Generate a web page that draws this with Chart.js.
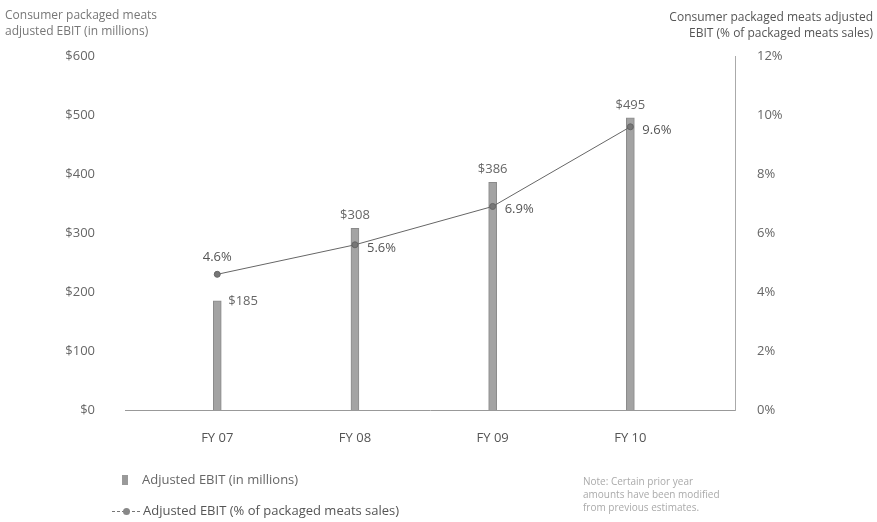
<!DOCTYPE html>
<html>
<head>
<meta charset="utf-8">
<script src="https://cdn.jsdelivr.net/npm/chart.js@4/dist/chart.umd.min.js"></script>
<style>
    body { margin: 0; background: #fff; font-family: "Open Sans", sans-serif; }
    #wrap { position: relative; width: 877px; height: 522px; }
    canvas { position: absolute; left: 0; top: 0; }
    .txt { position: absolute; color: #777; font-size: 12px; line-height: 16px; }
</style>
</head>
<body>
<div id="wrap">
    <canvas id="chart" width="877" height="522"></canvas>
    <div class="txt" style="left:5px; top:7px;">Consumer packaged meats<br>adjusted EBIT (in millions)</div>
    <div class="txt" style="right:4px; top:9px; text-align:right; color:#555;">Consumer packaged meats adjusted<br>EBIT (% of packaged meats sales)</div>
    <div class="txt" style="left:122px; top:471px; font-size:13px; color:#666;">
        <span style="display:inline-block; width:6px; height:10px; background:#999; margin-right:14px; vertical-align:-1px;"></span>Adjusted EBIT (in millions)
    </div>
    <div class="txt" style="left:112px; top:502px; font-size:13px; color:#555;">
        <span style="display:inline-block; position:relative; width:28px; height:10px; margin-right:3px; vertical-align:-1px;">
            <span style="position:absolute; left:0; top:5px; width:28px; border-top:1px dashed #777;"></span>
            <span style="position:absolute; left:11px; top:2px; width:7px; height:7px; border-radius:50%; background:#888;"></span>
        </span>Adjusted EBIT (% of packaged meats sales)
    </div>
    <div class="txt" style="left:583px; top:475px; font-size:10px; line-height:13px; color:#aaa;">Note: Certain prior year<br>amounts have been modified<br>from previous estimates.</div>
</div>
<script>
// ── Données ──
const ANNEES = ['FY 07', 'FY 08', 'FY 09', 'FY 10'];
const EBIT_MILLIONS = [185, 308, 386, 495];
const EBIT_POURCENT = [4.6, 5.6, 6.9, 9.6];
const TICKS_DOLLARS = [0, 100, 200, 300, 400, 500, 600];
const TICKS_POURCENT = [0, 2, 4, 6, 8, 10, 12];

// Étiquettes de valeurs
const etiquettes = {
    id: 'etiquettes',
    afterDatasetsDraw(chart) {
        const ctx = chart.ctx;
        const barres = chart.getDatasetMeta(0).data;
        const points = chart.getDatasetMeta(1).data;
        ctx.save();
        ctx.font = '13px "Open Sans", sans-serif';
        ctx.fillStyle = '#666';
        ctx.textBaseline = 'middle';
        barres.forEach((b, i) => {
            if (i === 0) {
                ctx.textAlign = 'left';
                ctx.fillText('$' + EBIT_MILLIONS[i], b.x + 11, b.y);
            } else {
                ctx.textAlign = 'center';
                ctx.fillText('$' + EBIT_MILLIONS[i], b.x, b.y - 13);
            }
        });
        ctx.fillStyle = '#555';
        points.forEach((p, i) => {
            const txt = EBIT_POURCENT[i].toFixed(1) + '%';
            if (i === 0) {
                ctx.textAlign = 'center';
                ctx.fillText(txt, p.x, p.y - 17);
            } else {
                ctx.textAlign = 'left';
                ctx.fillText(txt, p.x + 12, p.y + 3);
            }
        });
        ctx.restore();
    }
};

new Chart(document.getElementById('chart'), {
    type: 'bar',
    data: {
        datasets: [
            {
                type: 'bar',
                data: EBIT_MILLIONS.map((v, i) => ({ x: i, y: v })),
                backgroundColor: '#a3a3a3',
                borderColor: '#8a8a8a',
                borderWidth: 1,
                barThickness: 8,
                yAxisID: 'y',
                order: 2
            },
            {
                type: 'line',
                data: EBIT_POURCENT.map((v, i) => ({ x: i, y: v })),
                borderColor: '#666',
                borderWidth: 1,
                pointRadius: 3,
                pointBackgroundColor: '#777',
                pointBorderColor: '#666',
                yAxisID: 'y2',
                order: 1
            }
        ]
    },
    options: {
        responsive: false,
        animation: false,
        layout: { padding: { top: 56, left: 0, right: 0, bottom: 0 } },
        plugins: { legend: { display: false }, tooltip: { enabled: false } },
        scales: {
            x: {
                type: 'linear',
                offset: false,
                min: -0.67,
                max: 3.76,
                grid: { display: false },
                border: { color: '#999', dash: [1, 2] },
                afterBuildTicks: s => { s.ticks = ANNEES.map((_, i) => ({ value: i })); },
                afterFit: s => { s.height = 112; },
                ticks: {
                    padding: 12,
                    color: '#555',
                    font: { size: 13, family: '"Open Sans", sans-serif' },
                    callback: v => ANNEES[v]
                }
            },
            y: {
                position: 'left',
                min: 0,
                max: 600,
                grid: { display: false },
                border: { display: false },
                afterBuildTicks: s => { s.ticks = TICKS_DOLLARS.map(v => ({ value: v })); },
                afterFit: s => { s.width = 125; },
                ticks: {
                    padding: 22,
                    color: '#666',
                    font: { size: 13, family: '"Open Sans", sans-serif' },
                    callback: v => '$' + v
                }
            },
            y2: {
                position: 'right',
                min: 0,
                max: 12,
                grid: { display: false, drawTicks: true },
                border: { color: '#aaa', dash: [1, 2] },
                afterBuildTicks: s => { s.ticks = TICKS_POURCENT.map(v => ({ value: v })); },
                afterFit: s => { s.width = 142; },
                ticks: {
                    padding: 14,
                    color: '#666',
                    font: { size: 13, family: '"Open Sans", sans-serif' },
                    callback: v => v + '%'
                }
            }
        }
    },
    plugins: [etiquettes]
});
</script>
</body>
</html>
